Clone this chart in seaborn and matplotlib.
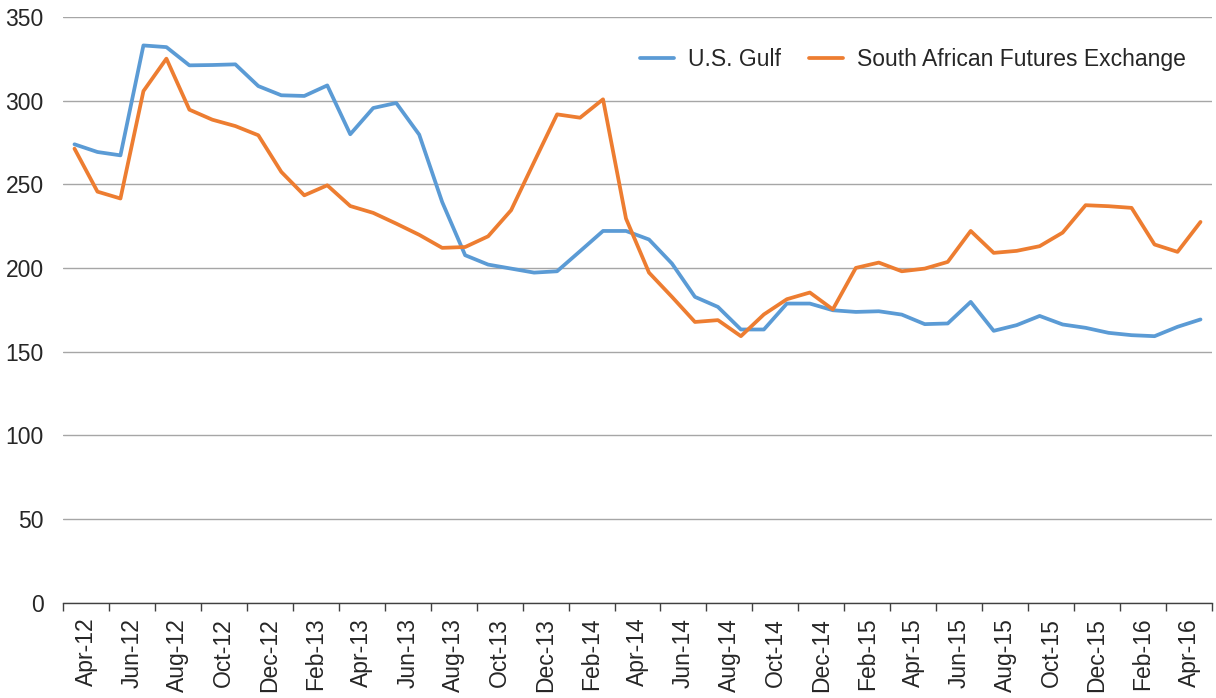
import pandas as pd
import numpy as np
import matplotlib.pyplot as plt
import seaborn as sns

# Monthly prices, Apr-12 .. May-16
months = pd.date_range("2012-04-01", "2016-05-01", freq="MS").strftime("%b-%y").tolist()

us_gulf = [273.9, 269.3, 267.3, 333.0, 332.0, 321.1, 321.3, 321.7, 308.7, 303.2,
           302.8, 309.1, 279.9, 295.6, 298.6, 279.7, 239.4, 207.6, 202.0, 199.6,
           197.2, 198.0, 210.0, 222.1, 222.1, 217.0, 202.6, 182.7, 176.7, 163.2,
           163.2, 178.7, 178.7, 174.7, 173.7, 174.1, 172.1, 166.4, 166.8, 179.7,
           162.4, 165.8, 171.3, 166.2, 164.2, 161.2, 159.8, 159.2, 164.8, 169.2]

safex = [271.3, 245.6, 241.5, 305.7, 325.1, 294.6, 288.6, 284.8, 279.3, 257.4,
         243.4, 249.4, 237.0, 232.9, 226.5, 219.8, 212.0, 212.5, 218.9, 234.5,
         263.3, 291.8, 289.8, 300.8, 229.5, 197.2, 182.7, 167.7, 168.8, 159.2,
         172.2, 181.3, 185.3, 175.2, 200.0, 203.2, 198.0, 199.6, 203.6, 222.1,
         209.0, 210.2, 213.0, 221.1, 237.5, 236.9, 235.9, 214.0, 209.6, 227.5]

series_names = ["U.S. Gulf", "South African Futures Exchange"]
colors = ["#5B9BD5", "#ED7D31"]

df = pd.DataFrame({"idx": np.arange(len(months)), "month": months,
                   series_names[0]: us_gulf, series_names[1]: safex})
long_df = df.melt(id_vars=["idx", "month"], var_name="series", value_name="price")

sns.set_theme(style="white")
plt.rcParams["font.family"] = ["Liberation Sans", "DejaVu Sans"]

fig = plt.figure(figsize=(12.16, 6.98), dpi=100)
ax = fig.add_axes([63 / 1216, 1 - 602.5 / 698, 1149 / 1216, (602.5 - 17) / 698])

sns.lineplot(data=long_df, x="idx", y="price", hue="series", hue_order=series_names,
             palette=colors, linewidth=2.7, ax=ax)

n = len(months)
ax.set_xlim(-0.5, n - 0.5)
ax.set_ylim(0, 350)
ax.set_yticks(np.arange(0, 351, 50))
ax.yaxis.grid(True, color="#a6a6a6", linewidth=1.0)
ax.set_axisbelow(True)
ax.tick_params(axis="y", length=0, pad=14, labelsize=16.5, labelcolor="#262626")

# tick marks every two months, labels centred between them
ax.set_xticks(np.arange(-0.5, n, 2))
ax.set_xticklabels([])
ax.set_xticks(np.arange(0.5, n, 2), minor=True)
ax.set_xticklabels(months[::2], minor=True, rotation=90)
ax.tick_params(axis="x", which="major", length=6, width=1, color="#404040", direction="out")
ax.tick_params(axis="x", which="minor", length=0, pad=11, labelsize=16.5, labelcolor="#262626")
ax.tick_params(axis="x", which="both", bottom=True)

for side in ["left", "right", "top"]:
    ax.spines[side].set_visible(False)
ax.spines["bottom"].set_color("#404040")
ax.spines["bottom"].set_linewidth(1.0)

ax.set_xlabel("")
ax.set_ylabel("")
ax.legend(title=None, frameon=False, ncol=2, fontsize=16.5, loc="upper right",
          bbox_to_anchor=(0.995, 0.982), handlelength=1.5, columnspacing=1.2,
          handletextpad=0.6)

fig.savefig("out.png", dpi=100)
